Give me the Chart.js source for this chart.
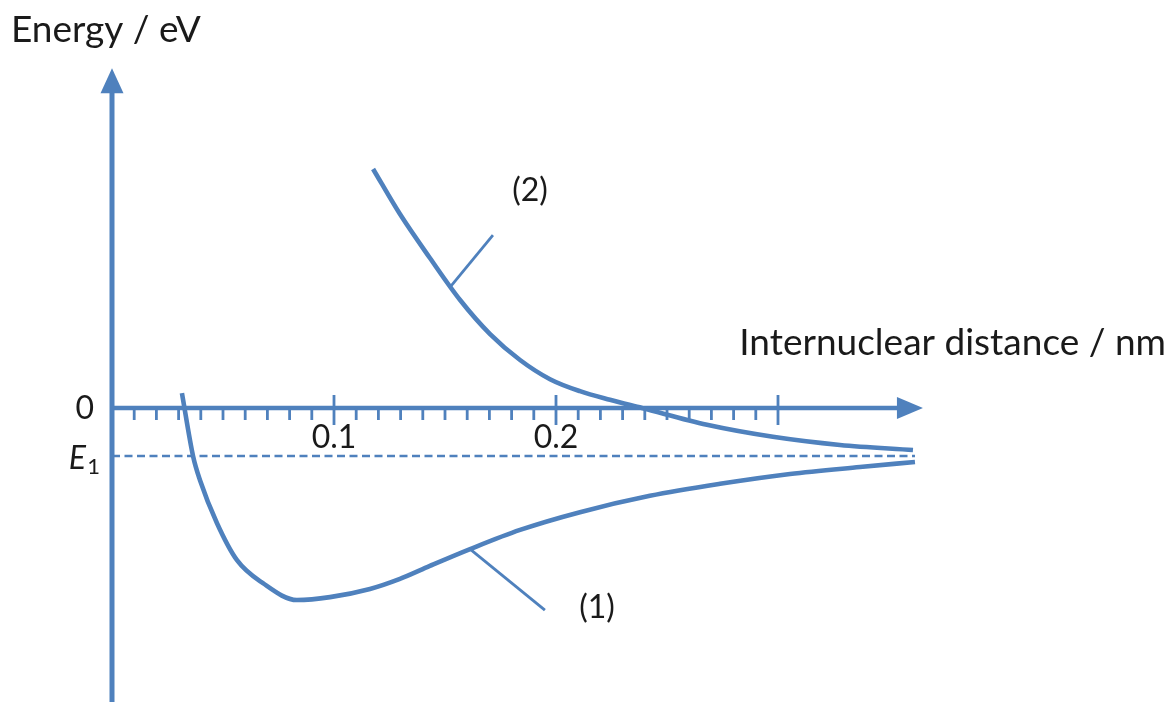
<!DOCTYPE html>
<html>
<head>
<meta charset="utf-8">
<script src="https://cdn.jsdelivr.net/npm/chart.js@4.4.0/dist/chart.umd.min.js"></script>
<style>
  html, body { margin: 0; padding: 0; background: #fff; }
  #wrap { width: 1171px; height: 702px; position: relative; }
</style>
</head>
<body>
<div id="wrap"><canvas id="chart"></canvas></div>
<script>
// distance in nm, energy in arbitrary eV units (E1 taken as -1)
const curve1X = [0.0315, 0.0365, 0.0396, 0.0473, 0.0563, 0.0680, 0.0833, 0.0982, 0.1162, 0.1297, 0.1432, 0.1613, 0.1838, 0.2108, 0.2423, 0.2739, 0.3054, 0.3369, 0.3617];
const curve1Y = [0.31, -1.0, -1.5, -2.40, -3.17, -3.65, -4.0, -3.94, -3.77, -3.56, -3.29, -2.94, -2.54, -2.17, -1.83, -1.58, -1.375, -1.23, -1.125];
const curve2X = [0.1176, 0.1297, 0.1432, 0.1568, 0.1703, 0.1838, 0.1973, 0.2108, 0.2243, 0.2387, 0.2680, 0.2977, 0.3279, 0.3608];
const curve2Y = [4.98, 4.04, 3.125, 2.25, 1.54, 1.0, 0.60, 0.35, 0.17, 0.0, -0.35, -0.60, -0.77, -0.875];

const majorTicks  = [0.1, 0.2, 0.3];
const majorLabels = ['0.1', '0.2', ''];
const minorTicks  = [0.01, 0.02, 0.03, 0.04, 0.05, 0.06, 0.07, 0.08, 0.09,
                     0.11, 0.12, 0.13, 0.14, 0.15, 0.16, 0.17, 0.18, 0.19,
                     0.21, 0.22, 0.23, 0.24, 0.25, 0.26, 0.27, 0.28, 0.29];
const E1 = -1;

const xTitle = 'Internuclear distance / nm';
const yTitle = 'Energy / eV';
const curveNames = ['(1)', '(2)'];
// leader lines: from a point on the curve out to its label
const leader1X = [0.1613, 0.1950];
const leader1Y = [-2.94, -4.21];
const leader2X = [0.1523, 0.1716];
const leader2Y = [2.52, 3.60];
const label1 = [0.2185, -4.17];
const label2 = [0.1883, 4.52];

const xAxisEnd = 0.3653;
const dashEnd = 0.3617;
const yAxisTop = 7.08;
const yAxisBottom = -6.2;

const BLUE = '#4f81bd';
const TEXT = '#1a1a1a';
const FONT = 'Lato, "Open Sans", sans-serif';

const toPts = (xs, ys) => xs.map((x, i) => ({ x, y: ys[i] }));

const axesPlugin = {
  id: 'axes',
  beforeDatasetsDraw(chart) {
    const { ctx, scales: { x, y } } = chart;
    const x0 = x.getPixelForValue(0), y0 = y.getPixelForValue(0);
    ctx.save();
    ctx.strokeStyle = BLUE; ctx.fillStyle = BLUE; ctx.lineCap = 'butt';

    // E1 dashed line
    const yE = y.getPixelForValue(E1);
    ctx.lineWidth = 2.5;
    ctx.setLineDash([8, 4.5]);
    ctx.beginPath(); ctx.moveTo(x0, yE); ctx.lineTo(x.getPixelForValue(dashEnd), yE); ctx.stroke();
    ctx.setLineDash([]);

    // x axis + arrow
    const xEnd = x.getPixelForValue(xAxisEnd);
    ctx.lineWidth = 4.5;
    ctx.beginPath(); ctx.moveTo(x0, y0); ctx.lineTo(xEnd - 20, y0); ctx.stroke();
    ctx.beginPath(); ctx.moveTo(xEnd, y0); ctx.lineTo(xEnd - 26, y0 - 11); ctx.lineTo(xEnd - 26, y0 + 11); ctx.closePath(); ctx.fill();

    // y axis + arrow
    const yTop = y.getPixelForValue(yAxisTop);
    ctx.lineWidth = 5;
    ctx.beginPath(); ctx.moveTo(x0, y.getPixelForValue(yAxisBottom)); ctx.lineTo(x0, yTop + 20); ctx.stroke();
    ctx.beginPath(); ctx.moveTo(x0, yTop); ctx.lineTo(x0 - 11.5, yTop + 25); ctx.lineTo(x0 + 11.5, yTop + 25); ctx.closePath(); ctx.fill();

    // ticks: minor below the axis, major across it
    ctx.lineWidth = 2.8;
    minorTicks.forEach(v => {
      const px = x.getPixelForValue(v);
      ctx.beginPath(); ctx.moveTo(px, y0); ctx.lineTo(px, y0 + 12); ctx.stroke();
    });
    majorTicks.forEach(v => {
      const px = x.getPixelForValue(v);
      ctx.beginPath(); ctx.moveTo(px, y0 - 13); ctx.lineTo(px, y0 + 17); ctx.stroke();
    });
    ctx.restore();
  },
  afterDatasetsDraw(chart) {
    const { ctx, scales: { x, y } } = chart;
    const x0 = x.getPixelForValue(0), y0 = y.getPixelForValue(0);
    ctx.save();
    ctx.fillStyle = TEXT;
    ctx.textBaseline = 'middle';

    // tick labels
    ctx.font = '32px ' + FONT;
    ctx.textAlign = 'center';
    majorTicks.forEach((v, i) => {
      if (majorLabels[i]) ctx.fillText(majorLabels[i], x.getPixelForValue(v), y0 + 30);
    });

    // y labels
    ctx.textAlign = 'right';
    ctx.fillText('0', x0 - 18, y0 + 1);
    const yE = y.getPixelForValue(E1);
    ctx.font = 'italic 32px ' + FONT;
    ctx.fillText('E', x0 - 26, yE + 3);
    ctx.font = '22px ' + FONT;
    ctx.fillText('1', x0 - 12, yE + 11);

    // curve labels
    ctx.font = '32px ' + FONT;
    ctx.textAlign = 'center';
    ctx.fillText(curveNames[0], x.getPixelForValue(label1[0]), y.getPixelForValue(label1[1]));
    ctx.fillText(curveNames[1], x.getPixelForValue(label2[0]), y.getPixelForValue(label2[1]));

    // axis titles
    ctx.font = '37px ' + FONT;
    ctx.textAlign = 'left';
    ctx.fillText(yTitle, x0 - 101, y.getPixelForValue(yAxisTop) - 38);
    ctx.textAlign = 'right';
    ctx.fillText(xTitle, chart.width - 5, y0 - 65);
    ctx.restore();
  }
};

new Chart(document.getElementById('chart'), {
  type: 'scatter',
  data: {
    datasets: [
      { data: toPts(curve1X, curve1Y), showLine: true, borderColor: BLUE, borderWidth: 4.6, pointRadius: 0, cubicInterpolationMode: 'monotone', clip: false },
      { data: toPts(curve2X, curve2Y), showLine: true, borderColor: BLUE, borderWidth: 4.6, pointRadius: 0, cubicInterpolationMode: 'monotone', clip: false },
      { data: toPts(leader1X, leader1Y), showLine: true, borderColor: BLUE, borderWidth: 2.8, pointRadius: 0, clip: false },
      { data: toPts(leader2X, leader2Y), showLine: true, borderColor: BLUE, borderWidth: 2.8, pointRadius: 0, clip: false }
    ]
  },
  options: {
    responsive: true,
    maintainAspectRatio: false,
    animation: false,
    devicePixelRatio: 1,
    layout: { padding: { left: 1, right: 15.6, top: 24, bottom: 6 } },
    plugins: { legend: { display: false }, tooltip: { enabled: false } },
    scales: {
      x: { type: 'linear', min: -0.05, max: 0.47, display: false },
      y: { type: 'linear', min: -6, max: 8, display: false }
    }
  },
  plugins: [axesPlugin]
});
</script>
</body>
</html>
